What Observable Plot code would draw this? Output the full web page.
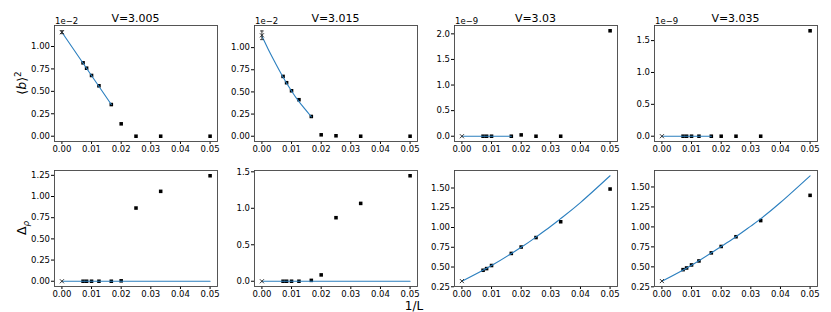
<!DOCTYPE html>
<html>
<head>
<meta charset="utf-8">
<script src="https://cdn.jsdelivr.net/npm/d3@7"></script>
<script src="https://cdn.jsdelivr.net/npm/@observablehq/plot@0.6"></script>
<style>
  body { margin: 0; background: white; }
  #fig { position: relative; width: 831px; height: 312px; background: white; font-family: "DejaVu Sans", sans-serif; color: black; overflow: hidden; }
  #fig svg { position: absolute; overflow: visible; }
  .t { position: absolute; white-space: nowrap; line-height: 1; }
  .title { font-size: 11px; transform: translate(-50%, -50%); }
  .off { font-size: 8.5px; }
  .lab { font-size: 12.5px; transform: translate(-50%, -50%) rotate(-90deg); }
  .xlab { font-size: 12px; transform: translate(-50%, -50%); }
  sup, sub { font-size: 70%; line-height: 0; }
</style>
</head>
<body>
<div id="fig"></div>
<script>
// ---------- data ----------
const titles = ["V=3.005", "V=3.015", "V=3.03", "V=3.035"];
const offsets = ["1e\u22122", "1e\u22122", "1e\u22129", "1e\u22129"];

// 1/L for the simulated sizes
const invL9 = [0.00714, 0.00833, 0.01, 0.0125, 0.01667, 0.02, 0.025, 0.03333, 0.05];
const invL8 = [0.00714, 0.00833, 0.01, 0.01667, 0.02, 0.025, 0.03333, 0.05];

// top row: <b>^2 (in units of the offset)
const b2_3005 = [0.818, 0.758, 0.677, 0.562, 0.353, 0.138, 0.0, 0.0, 0.0];
const b2_3015 = [0.675, 0.604, 0.513, 0.412, 0.223, 0.016, 0.005, 0.0, 0.0];
const b2_303  = [0.0, 0.0, 0.0, 0.0, 0.026, 0.0, 0.0, 2.06];
const b2_3035 = [0.0, 0.0, 0.0, 0.0, 0.0, 0.0, 0.0, 0.0, 1.654];

// bottom row: Delta_rho
const d_3005 = [0.0, 0.0, 0.0, 0.0, 0.0, 0.005, 0.864, 1.061, 1.245];
const d_3015 = [0.0, 0.0, 0.0, 0.0, 0.012, 0.087, 0.871, 1.067, 1.446];
const d_303  = [0.459, 0.480, 0.519, 0.672, 0.753, 0.873, 1.073, 1.487];
const d_3035 = [0.465, 0.486, 0.524, 0.574, 0.675, 0.755, 0.877, 1.079, 1.395];

// extrapolated values at 1/L = 0 (x markers) and their error
const ext_b2 = [1.159, 1.139, 0.0, 0.0];
const err_b2 = [0.016, 0.049, 0.0, 0.0];
const ext_d  = [0.0, 0.0, 0.322, 0.322];

// fitted curves
const fitX_b2_3005 = [0, 0.01667];
const fitY_b2_3005 = [1.159, 0.353];
const fitX_b2_3015 = [0, 0.002, 0.004, 0.007, 0.01, 0.0125, 0.01667];
const fitY_b2_3015 = [1.13, 0.99, 0.86, 0.675, 0.51, 0.39, 0.22];
const fitX_zero_short = [0, 0.01667];
const fitY_zero_short = [0, 0];
const fitX_zero_long = [0, 0.05];
const fitY_zero_long = [0, 0];
const fitX_d = [0, 0.01, 0.02, 0.025, 0.03, 0.0333, 0.04, 0.05];
const fitY_d_303  = [0.32, 0.518, 0.75, 0.879, 1.016, 1.112, 1.316, 1.655];
const fitY_d_3035 = [0.32, 0.52, 0.755, 0.877, 1.01, 1.10, 1.305, 1.639];

// axes
const xTicks = [0, 0.01, 0.02, 0.03, 0.04, 0.05];
const xDomain = [-0.0025, 0.0525];
const yTicksQ = [0, 0.25, 0.5, 0.75, 1.0];
const yTicksH2 = [0, 0.5, 1.0, 1.5, 2.0];
const yTicksH15 = [0, 0.5, 1.0, 1.5];
const yTicksD = [0, 0.25, 0.5, 0.75, 1.0, 1.25];
const yTicksD2 = [0.25, 0.5, 0.75, 1.0, 1.25, 1.5];
const yDomains = [
  [-0.059, 1.234], [-0.0595, 1.2495], [-0.103, 2.163], [-0.083, 1.737],
  [-0.062, 1.307], [-0.072, 1.518], [0.2535, 1.7215], [0.254, 1.706]
];

// ---------- layout ----------
const frameLeft = [54, 254, 454, 654];
const frameTop = [25, 170];
const FW = 163, FH = 116;
const ML = 36, MR = 4, MT = 4, MB = 18;

const zip = (xs, ys) => xs.map((x, i) => ({x, y: ys[i]}));

const panels = [
  {pts: zip(invL9, b2_3005), ext: ext_b2[0], err: err_b2[0], fit: zip(fitX_b2_3005, fitY_b2_3005), ticks: yTicksQ, fmt: ".2f"},
  {pts: zip(invL9, b2_3015), ext: ext_b2[1], err: err_b2[1], fit: zip(fitX_b2_3015, fitY_b2_3015), ticks: yTicksQ, fmt: ".2f"},
  {pts: zip(invL8, b2_303), ext: ext_b2[2], err: err_b2[2], fit: zip(fitX_zero_short, fitY_zero_short), ticks: yTicksH2, fmt: ".1f"},
  {pts: zip(invL9, b2_3035), ext: ext_b2[3], err: err_b2[3], fit: zip(fitX_zero_short, fitY_zero_short), ticks: yTicksH15, fmt: ".1f"},
  {pts: zip(invL9, d_3005), ext: ext_d[0], err: 0, fit: zip(fitX_zero_long, fitY_zero_long), ticks: yTicksD, fmt: ".2f"},
  {pts: zip(invL9, d_3015), ext: ext_d[1], err: 0, fit: zip(fitX_zero_long, fitY_zero_long), ticks: yTicksH15, fmt: ".1f"},
  {pts: zip(invL8, d_303), ext: ext_d[2], err: 0, fit: zip(fitX_d, fitY_d_303), ticks: yTicksD2, fmt: ".2f"},
  {pts: zip(invL9, d_3035), ext: ext_d[3], err: 0, fit: zip(fitX_d, fitY_d_3035), ticks: yTicksD2, fmt: ".2f"}
];

const capSymbol = {
  draw(context, size) {
    const w = Math.sqrt(size) / 2;
    context.moveTo(-w, 0);
    context.lineTo(w, 0);
  }
};

const fig = document.getElementById("fig");

panels.forEach((p, i) => {
  const col = i % 4, row = Math.floor(i / 4);
  const ext = [{x: 0, y: p.ext, lo: p.ext - p.err, hi: p.ext + p.err}];
  const marks = [
    Plot.frame({stroke: "#444", strokeWidth: 0.9}),
    Plot.dot(p.pts, {x: "x", y: "y", symbol: "square", fill: "black", stroke: "none", r: 2}),
    Plot.line(p.fit, {x: "x", y: "y", stroke: "#2b7fbf", strokeWidth: 1.1, curve: "natural"}),
    Plot.dot(ext, {x: "x", y: "y", symbol: "times", stroke: "#222", strokeWidth: 0.9, r: 2})
  ];
  if (p.err > 0) {
    marks.push(Plot.ruleX(ext, {x: "x", y1: "lo", y2: "hi", stroke: "#222", strokeWidth: 0.9}));
    marks.push(Plot.dot(ext, {x: "x", y: "lo", symbol: capSymbol, stroke: "#222", strokeWidth: 0.9, r: 2}));
    marks.push(Plot.dot(ext, {x: "x", y: "hi", symbol: capSymbol, stroke: "#222", strokeWidth: 0.9, r: 2}));
  }
  const svg = Plot.plot({
    width: FW + ML + MR,
    height: FH + MT + MB,
    marginLeft: ML, marginRight: MR, marginTop: MT, marginBottom: MB,
    style: {background: "transparent", fontFamily: "DejaVu Sans", fontSize: "8.5px", color: "black", overflow: "visible"},
    x: {domain: xDomain, ticks: xTicks, tickFormat: ".2f", tickSize: 3, tickPadding: 1, label: null},
    y: {domain: yDomains[i], ticks: p.ticks, tickFormat: p.fmt, tickSize: 3, tickPadding: 1.5, label: null},
    marks
  });
  svg.style.left = (frameLeft[col] - ML) + "px";
  svg.style.top = (frameTop[row] - MT) + "px";
  svg.style.maxWidth = "none";
  fig.appendChild(svg);
});

function addText(cls, html, left, top) {
  const d = document.createElement("div");
  d.className = "t " + cls;
  d.innerHTML = html;
  d.style.left = left + "px";
  d.style.top = top + "px";
  fig.appendChild(d);
  return d;
}

titles.forEach((t, c) => addText("title", t, frameLeft[c] + FW / 2, 18));
offsets.forEach((t, c) => addText("off", t, frameLeft[c] + 1, 17));
addText("lab", "\u27E8<i>b</i>\u27E9<sup>2</sup>", 22, 83);
addText("lab", "\u0394<sub><i>\u03C1</i></sub>", 22, 228);
addText("xlab", "1/L", 414, 306);
</script>
</body>
</html>
